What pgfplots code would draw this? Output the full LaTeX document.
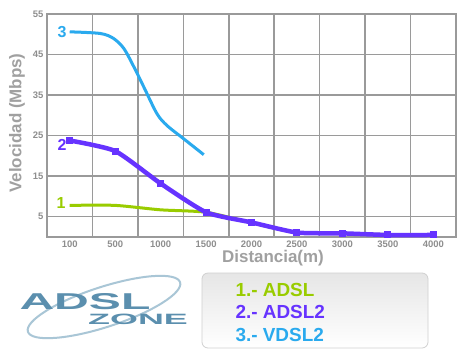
\documentclass[border=0pt]{standalone}
\usepackage{fontspec}
\setmainfont{Liberation Sans}
\usepackage{pgfplots}
\pgfplotsset{compat=1.18}
\usetikzlibrary{shadings}
\definecolor{gridgray}{HTML}{9A9A9A}
\definecolor{labgray}{HTML}{8E8E8E}
\definecolor{axlabgray}{HTML}{A0A0A0}
\definecolor{cgreen}{HTML}{99CC00}
\definecolor{cpurple}{HTML}{6633FF}
\definecolor{cblue}{HTML}{2AAAEE}
\definecolor{logoblue}{HTML}{5B8FAE}
\definecolor{ellblue}{HTML}{A9C6D6}
\definecolor{boxtop}{HTML}{E6E6E6}
\definecolor{boxline}{HTML}{D0D0D0}

\pgfplotstableread{
x y
0 7.8
1 7.8
2 6.7
3 6.1
4 3.5
5 1.1
6 0.9
7 0.6
8 0.6
}\adsl
\pgfplotstableread{
x y
0 23.8
1 21.2
2 13.2
3 6.1
4 3.6
5 1.1
6 0.9
7 0.5
8 0.5
}\adsltwo
\pgfplotstableread{
x y
0 50.6
0.67 50.2
0.96 49.0
1.19 46.5
1.41 42.0
1.63 37.0
1.92 30.4
2.14 27.5
2.51 24.2
2.95 20.3
}\vdsl

\begin{document}
\begin{tikzpicture}[x=1bp,y=1bp]
\fill[white] (0,0) rectangle (461,353);
\begin{axis}[
  at={(47bp,116bp)}, anchor=south west, scale only axis,
  width=409bp, height=223bp,
  xmin=-0.5, xmax=8.5, ymin=0, ymax=55,
  xtick={0,...,8},
  xticklabels={100,500,1000,1500,2000,2500,3000,3500,4000},
  minor xtick={0.5,1.5,...,7.5},
  ytick={5,15,25,35,45,55},
  xminorgrids, ymajorgrids,
  major tick length=0pt, minor tick length=0pt,
  grid style={gridgray, line width=1.5bp},
  minor grid style={gridgray, line width=1.5bp},
  axis line style={gridgray, line width=1.8bp},
  tick label style={font=\fontsize{9.5}{10}\selectfont\bfseries, text=labgray},
  /pgf/number format/assume math mode=true,
  clip=false,
]
\addplot[cgreen, line width=3bp, smooth, tension=0.4] table {\adsl};
\addplot[cpurple, line width=4.5bp, smooth, tension=0.35, mark=square*, mark size=3bp, mark options={line width=0pt}] table {\adsltwo};
\addplot[cblue, line width=3bp, smooth, tension=0.5] table {\vdsl};
\node[text=cblue, font=\fontsize{16}{16}\selectfont\bfseries] at (axis cs:-0.17,50.5) {3};
\node[text=cpurple, font=\fontsize{16}{16}\selectfont\bfseries] at (axis cs:-0.17,22.8) {2};
\node[text=cgreen, font=\fontsize{16}{16}\selectfont\bfseries] at (axis cs:-0.19,8.5) {1};
\end{axis}
% axis labels
\node[text=axlabgray, font=\fontsize{17}{17}\selectfont\bfseries] at (273,95) {Distancia(m)};
\node[text=axlabgray, font=\fontsize{17}{17}\selectfont\bfseries, rotate=90] at (17,230) {Velocidad (Mbps)};
% legend box
\draw[rounded corners=6bp, draw=boxline, line width=0.8bp, top color=boxtop, bottom color=white] (202,5) rectangle (428,80);
\node[anchor=west, text=cgreen, font=\fontsize{19}{19}\selectfont\bfseries] at (232,63) {1.- ADSL};
\node[anchor=west, text=cpurple, font=\fontsize{19}{19}\selectfont\bfseries] at (232,41) {2.- ADSL2};
\node[anchor=west, text=cblue, font=\fontsize{19}{19}\selectfont\bfseries] at (232,18) {3.- VDSL2};
% logo
\draw[ellblue, line width=2bp, rotate around={18:(104,46)}] (104,46) ellipse (80 and 20);
\node[anchor=base, inner sep=0pt, text depth=0pt, text=logoblue, font=\fontsize{23}{23}\selectfont\bfseries, xscale=2.1] at (85,43.5) {ADSL};
\node[anchor=base, inner sep=0pt, text depth=0pt, text=logoblue, font=\fontsize{15}{15}\selectfont\bfseries, xscale=2.4] at (138,29) {ZONE};
\end{tikzpicture}
\end{document}
